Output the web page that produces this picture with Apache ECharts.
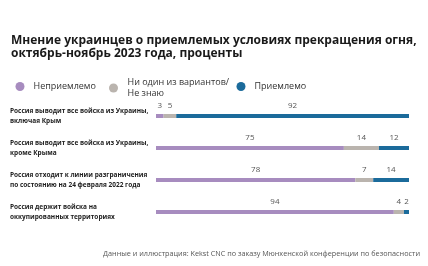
<!DOCTYPE html>
<html><head><meta charset="utf-8">
<script src="https://cdn.jsdelivr.net/npm/echarts@6/dist/echarts.min.js"></script>
<style>html,body{margin:0;padding:0;background:#fff}#c{width:428px;height:266px}</style>
</head><body><div id="c"></div>
<script>
const categories = [
  'Россия выводит все войска из Украины,\nвключая Крым',
  'Россия выводит все войска из Украины,\nкроме Крыма',
  'Россия отходит к линии разграничения\nпо состоянию на 24 февраля 2022 года',
  'Россия держит войска на\nоккупированных территориях'
];
const seriesNames = ['Неприемлемо', 'Ни один из вариантов/ Не знаю', 'Приемлемо'];
const unacceptable = [3, 75, 78, 94];
const dontKnow = [5, 14, 7, 4];
const acceptable = [92, 12, 14, 2];
const colors = ['#a78cbf', '#bab4ae', '#1b6b9b'];

const raw = [unacceptable, dontKnow, acceptable];
const totals = categories.map((_, i) => unacceptable[i] + dontKnow[i] + acceptable[i]);

const chart = echarts.init(document.getElementById('c'), null, {renderer: 'canvas'});
const FONT = '"Open Sans", "Noto Sans", sans-serif';
const legendBase = {
  orient: 'horizontal', itemHeight: 9, icon: 'circle', selectedMode: false,
  textStyle: {fontFamily: FONT, fontSize: 9, color: '#333', lineHeight: 11}
};
chart.setOption({
  animation: false,
  textStyle: {fontFamily: FONT},
  title: [{
    text: 'Мнение украинцев о приемлемых условиях прекращения огня,\nоктябрь-ноябрь 2023 года, проценты',
    left: 6, top: 29,
    textStyle: {fontFamily: FONT, fontSize: 12, fontWeight: 'bold', color: '#1a1a1a', lineHeight: 13}
  }, {
    text: 'Данные и иллюстрация: Kekst CNC по заказу Мюнхенской конференции по безопасности',
    right: 3, top: 245,
    textStyle: {fontFamily: FONT, fontSize: 7.25, fontWeight: 'normal', color: '#555'}
  }],
  legend: [
    Object.assign({}, legendBase, {data: [seriesNames[0]], left: 10.5, top: 76, itemWidth: 17}),
    Object.assign({}, legendBase, {data: [seriesNames[1]], left: 104, top: 72, itemWidth: 18,
      formatter: n => n.replace('/ ', '/\n')}),
    Object.assign({}, legendBase, {data: [seriesNames[2]], left: 231.5, top: 76, itemWidth: 17})
  ],
  grid: {left: 156, right: 19, top: 100, bottom: 38, containLabel: false},
  xAxis: {type: 'value', min: 0, max: 100, show: false},
  yAxis: {
    type: 'category', data: categories, inverse: true,
    axisLine: {show: false}, axisTick: {show: false},
    axisLabel: {
      align: 'left', margin: 146, fontFamily: FONT, fontSize: 6.5, fontWeight: 'bold',
      color: '#222', lineHeight: 9.5, padding: [7, 0, 0, 0]
    }
  },
  series: raw.map((arr, si) => ({
    name: seriesNames[si], type: 'bar', stack: 'total', barWidth: 4,
    itemStyle: {color: colors[si]},
    data: arr.map((v, i) => v / totals[i] * 100),
    label: {
      show: true, position: 'top', distance: 4,
      fontFamily: FONT, fontSize: 8, color: '#555',
      formatter: p => String(arr[p.dataIndex])
    }
  }))
});
</script></body></html>
